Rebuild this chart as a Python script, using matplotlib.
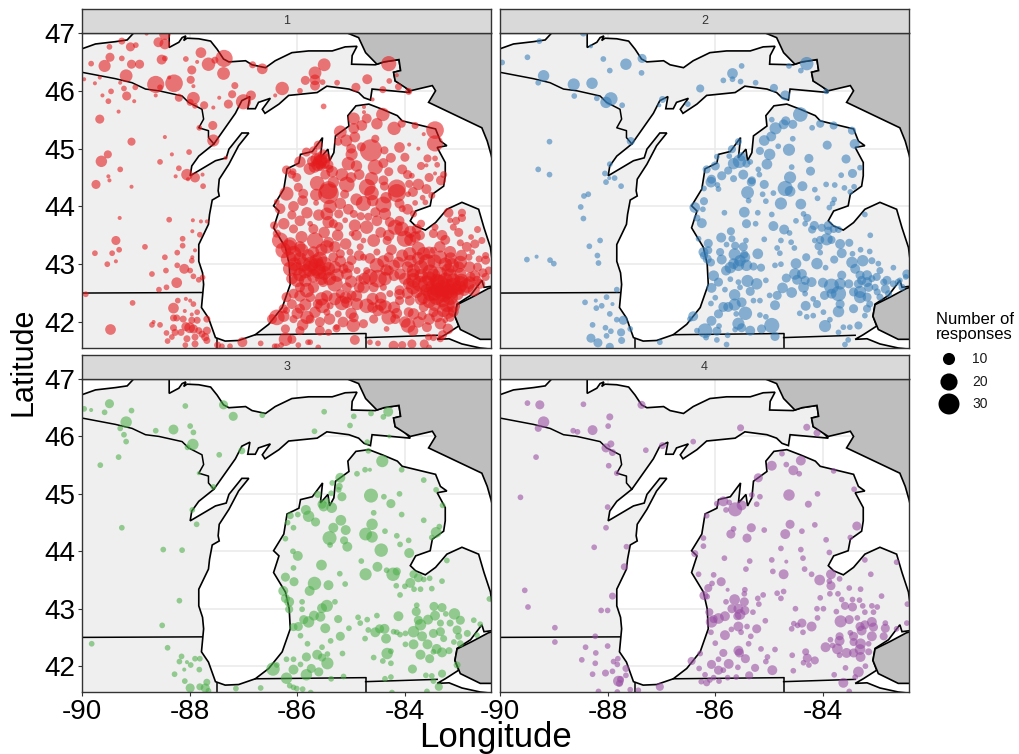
import numpy as np
import matplotlib
matplotlib.use("Agg")
import matplotlib.pyplot as plt

plt.rcParams['font.family'] = ['Liberation Sans', 'DejaVu Sans']
plt.rcParams['axes.unicode_minus'] = False

# outlines as (lon, lat)
land = [(-90.2,46.66),(-89.75,46.81),(-89.38,46.85),(-89.16,46.88),(-89.04,47.0),(-89.04,47.2),(-88.38,47.2),
        (-88.38,47.0),(-88.38,46.75),(-88.2,46.84),(-88.14,46.92),(-88.07,46.95),(-88.11,46.87),(-88.05,46.91),
        (-87.83,46.9),(-87.61,46.86),(-87.49,46.72),(-87.37,46.55),(-87.27,46.5),(-86.96,46.52),(-86.84,46.45),
        (-86.59,46.4),(-86.41,46.52),(-86.1,46.66),(-85.79,46.69),(-85.35,46.69),(-85.11,46.76),(-84.89,46.77),
        (-84.98,46.61),(-84.99,46.46),(-84.55,46.45),(-84.39,46.5),(-84.11,46.54),(-84.08,46.35),(-84.21,46.32),
        (-84.18,46.17),(-84.02,46.09),(-83.9,45.97),(-84.61,46.03),(-84.64,45.84),(-84.76,45.88),(-84.86,45.97),
        (-85.04,46.03),(-85.45,46.08),(-85.63,45.97),(-86.16,45.92),(-86.34,45.77),(-86.6,45.61),(-86.65,45.68),
        (-86.5,45.87),(-86.72,45.8),(-86.78,45.69),(-86.92,45.69),(-86.88,45.9),(-87.03,45.83),(-87.15,45.61),
        (-87.55,45.08),(-87.83,44.87),(-87.96,44.7),(-87.99,44.53),(-87.52,44.79),(-87.32,44.84),(-87.27,44.99),
        (-87.03,45.27),(-86.9,45.27),(-87.09,45.05),(-87.27,44.73),(-87.45,44.47),(-87.47,44.27),(-87.45,44.18),
        (-87.58,44.11),(-87.63,43.86),(-87.65,43.69),(-87.83,43.34),(-87.83,43.05),(-87.76,42.85),(-87.74,42.65),
        (-87.78,42.25),(-87.65,42.07),(-87.52,41.73),(-87.34,41.67),(-87.09,41.68),(-86.78,41.78),(-86.53,41.96),
        (-86.28,42.25),(-86.13,42.65),(-86.15,43.0),(-86.22,43.29),(-86.44,43.63),(-86.34,43.92),(-86.44,44.01),
        (-86.25,44.3),(-86.19,44.65),(-85.97,44.75),(-85.94,44.9),(-85.72,44.95),(-85.53,45.19),(-85.57,44.84),
        (-85.43,44.99),(-85.4,44.79),(-85.32,44.93),(-85.29,45.22),(-85.04,45.39),(-85.06,45.57),(-84.91,45.74),
        (-84.67,45.77),(-84.42,45.68),(-84.14,45.57),(-84.05,45.48),(-83.43,45.34),(-83.34,45.13),(-83.22,45.05),
        (-83.4,45.02),(-83.25,44.76),(-83.25,44.53),(-83.28,44.35),(-83.49,44.21),(-83.53,44.01),(-83.8,43.92),
        (-83.9,43.75),(-83.8,43.66),(-83.62,43.59),(-83.43,43.72),(-83.22,43.95),(-82.94,44.07),(-82.63,43.95),
        (-82.53,43.63),(-82.41,43.29),(-82.37,43.0),(-82.37,42.62),(-82.53,42.6),(-82.57,42.72),(-82.78,42.46),
        (-83.03,42.31),(-83.07,42.1),(-83.0,41.93),(-83.25,41.78),(-83.4,41.7),(-83.18,41.71),(-82.94,41.62),
        (-82.6,41.55),(-82.3,41.52),(-82.3,41.3),(-90.2,41.3)]
ontario_n = [(-85.1,47.1),(-85.07,47.0),(-84.86,46.92),(-84.73,46.66),(-84.52,46.46),(-84.39,46.5),(-84.11,46.54),
             (-84.08,46.35),(-84.21,46.32),(-84.18,46.17),(-83.9,46.0),(-83.49,46.09),(-83.43,46.0),(-83.56,45.8),
             (-82.57,45.36),(-82.47,45.13),(-82.4,44.9),(-82.35,44.7),(-82.3,47.1)]
ontario_s = [(-82.3,42.62),(-82.45,42.58),(-82.75,42.43),(-83.03,42.3),(-83.07,42.1),(-82.97,41.87),(-82.6,41.7),(-82.3,41.7)]
wi_up = [(-90.2,46.33),(-90.0,46.32),(-89.38,46.21),(-89.07,46.14),(-88.82,46.03),(-88.57,46.0),(-88.14,45.91),
         (-88.02,45.8),(-87.77,45.68),(-87.74,45.51),(-87.83,45.36),(-87.65,45.31),(-87.65,45.19),(-87.55,45.08)]
il_wi = [(-90.2,42.5),(-87.77,42.51)]
mi_in = [(-86.78,41.78),(-84.73,41.8)]
mi_oh = [(-84.73,41.73),(-83.4,41.77)]
in_oh = [(-84.73,41.8),(-84.73,41.3)]
il_in = [(-87.5,41.7),(-87.5,41.3)]

# responses per panel as (lon, lat, n)
points_1 = [(-89.49,46.76,2),(-89.26,46.86,3),(-89.1,46.76,5),(-89.0,46.79,2),(-88.58,46.84,6),(-88.46,46.81,7),
    (-88.46,46.98,8),(-88.8,46.99,1),(-89.48,46.58,5),(-89.26,46.56,2),(-89.83,46.47,2),(-89.58,46.43,9),(-89.08,46.46,5),
    (-88.93,46.46,5),(-88.52,46.54,6),(-88.46,46.56,2),(-88.07,46.55,2),(-87.86,46.5,1),(-87.79,46.66,7),(-87.65,46.46,11),
    (-87.53,46.53,3),(-87.36,46.56,18),(-87.37,46.3,10),(-87.96,46.36,5),(-86.83,46.45,3),(-86.65,46.38,7),(-85.5,46.45,10),
    (-85.67,46.31,10),(-85.85,46.18,5),(-85.67,46.19,7),(-85.67,46.09,6),(-85.53,46.15,2),(-85.26,46.14,2),(-84.7,46.2,6),
    (-84.3,46.47,14),(-84.15,46.27,1),(-84.29,46.17,2),(-84.12,46.07,3),(-83.93,45.99,3),(-84.41,46.02,3),(-84.91,46.06,5),
    (-85.95,46.0,2),(-86.28,46.04,11),(-86.41,45.92,1),(-87.16,46.09,3),(-87.21,45.94,4),(-86.86,45.92,6),(-87.0,45.81,14),
    (-87.28,45.77,5),(-87.45,45.88,1),(-87.56,45.71,1),(-88.2,45.88,4),(-87.93,45.87,10),(-87.99,45.8,3),(-87.9,45.74,2),
    (-87.73,45.75,4),(-88.29,46.13,19),(-88.63,46.11,18),(-89.18,46.26,10),(-88.55,46.06,2),(-88.38,46.23,1),(-87.98,46.19,4),
    (-87.93,46.08,1),(-89.96,46.2,1),(-89.76,46.13,1),(-89.67,46.23,1),(-89.29,46.14,1),(-89.22,46.04,2),(-89.01,46.06,2),
    (-89.46,45.99,2),(-89.62,45.92,1),(-89.17,45.91,5),(-89.51,45.82,2),(-89.03,45.82,1),(-88.63,45.92,1),(-89.32,45.64,1),
    (-89.67,45.51,5),(-89.08,45.12,4),(-88.46,45.2,1),(-89.64,44.78,8),(-89.52,44.9,4),(-89.29,44.64,2),(-89.51,44.52,1),
    (-89.49,44.45,1),(-89.74,44.38,5),(-89.08,44.34,1),(-88.55,44.77,2),(-88.33,44.9,1),(-88.01,44.94,2),(-87.57,45.4,5),
    (-87.82,45.36,2),(-87.56,45.14,9),(-88.2,44.66,2),(-88.26,44.52,1),(-88.05,44.55,8),(-87.9,44.5,6),(-88.03,44.47,1),
    (-87.76,44.55,1),(-87.75,44.35,2),(-87.33,44.84,1),(-85.51,45.73,2),(-84.6,45.85,1),
    (-84.76,45.72,1),(-84.76,45.63,1),(-84.95,45.52,9),(-84.71,45.52,6),(-84.41,45.59,11),(-84.52,45.43,8),(-84.8,45.4,7),
    (-84.95,45.35,7),(-85.2,45.29,10),(-84.93,45.2,7),(-85.09,45.14,9),(-85.24,45.12,4),(-84.55,45.17,4),(-84.2,45.35,11),
    (-84.06,45.43,4),(-83.81,45.4,3),(-83.44,45.32,19),(-83.44,45.09,16),(-83.65,45.25,1),(-83.92,45.07,1),(-83.75,45.0,1),
    (-84.1,45.02,7),(-84.38,44.97,4),(-84.63,44.97,30),(-84.81,45.03,5),(-84.26,44.84,6),(-84.99,44.9,9),(-84.55,44.68,14),
    (-85.05,44.74,11),(-85.17,44.55,10),(-83.58,44.83,4),(-83.44,44.83,2),(-83.6,44.71,1),(-83.4,44.72,2),(-84.05,44.64,6),
    (-83.87,44.53,2),(-83.28,44.55,3),(-83.44,44.57,1),(-83.33,44.45,6),(-83.75,44.38,8),(-83.92,44.39,4),(-84.15,44.31,20),
    (-84.38,44.35,5),(-84.62,44.48,11),(-84.7,44.33,17),(-85.08,44.38,15),(-85.42,44.28,20),(-85.33,44.42,8),(-85.63,44.4,13),
    (-85.98,44.33,5),(-85.58,44.77,12),(-85.55,44.8,9),(-85.62,44.72,10),(-85.5,44.75,8),(-85.65,44.82,8),(-85.52,44.9,6),
    (-85.68,44.68,8),(-85.6,44.85,6),(-85.45,44.83,5),(-85.72,44.78,7),(-85.56,44.7,6),(-85.42,44.72,6),(-85.4,44.65,4),
    (-86.2,44.63,5),(-86.08,44.6,3),(-85.83,44.94,5),(-85.7,44.97,4),(-85.61,45.06,5),(-85.95,44.77,8),(-85.77,44.65,9),
    (-85.48,44.55,6),(-86.01,44.5,5),(-86.1,44.55,4),(-89.3,43.8,1),(-89.37,43.41,5),(-89.31,43.25,2),(-89.44,43.19,2),
    (-89.76,43.19,2),(-89.37,43.05,1),(-89.53,43.0,2),(-88.83,43.3,2),(-88.7,42.83,2),(-88.44,42.89,2),(-88.46,43.12,2),
    (-88.23,43.2,2),(-88.38,43.77,2),(-87.94,43.76,1),(-87.79,43.74,1),(-87.68,43.74,1),(-87.95,43.57,1),(-87.81,43.51,2),
    (-88.13,43.44,2),(-88.13,43.32,2),(-87.9,43.24,1),(-87.95,43.12,1),(-87.96,43.06,2),(-88.23,42.98,2),(-88.1,42.92,6),
    (-87.99,42.89,2),(-87.93,42.79,2),(-87.76,42.77,2),(-87.83,42.73,2),(-88.24,42.68,7),(-88.43,42.6,2),(-88.57,42.56,2),
    (-89.93,42.48,2),(-89.06,42.33,2),(-88.3,42.24,7),(-88.22,42.37,2),(-88.07,42.4,1),(-87.99,42.37,1),(-87.93,42.31,2),
    (-89.47,41.87,7),(-88.7,41.95,2),(-88.67,42.0,1),(-88.55,41.95,2),(-88.3,42.07,3),(-88.24,42.07,3),(-88.12,42.05,3),
    (-87.96,42.03,3),(-87.86,42.03,3),(-87.86,42.17,2),(-88.09,42.19,1),(-87.96,42.13,1),(-87.68,42.05,3),(-88.0,41.9,7),
    (-88.07,41.92,5),(-87.93,41.88,5),(-88.3,41.9,3),(-88.27,41.82,3),(-88.43,41.81,2),(-88.16,41.82,3),(-88.41,41.67,2),
    (-88.33,41.74,2),(-88.05,41.71,3),(-87.9,41.74,3),(-87.71,41.74,4),(-87.68,41.85,4),(-87.77,41.79,3),(-87.83,41.85,3),
    (-88.08,41.6,2),(-87.9,41.62,3),(-87.68,41.68,3),(-87.48,41.6,3),(-87.4,41.58,2),(-87.25,41.58,2),(-87.02,41.65,6),
    (-86.68,41.63,2),(-86.38,41.58,2),
    (-86.2,44.22,12),(-85.89,44.22,6),(-85.42,44.22,26),(-85.12,44.21,5),(-84.62,44.23,13),(-84.15,44.23,20),(-83.94,44.21,2),
    (-83.67,44.15,2),(-83.5,44.19,3),(-86.07,44.0,7),(-86.32,43.96,7),(-86.38,44.08,2),(-85.82,43.89,8),(-85.65,44.06,2),
    (-85.39,44.0,11),(-84.77,44.05,14),(-84.4,44.03,16),(-84.05,43.96,3),(-83.81,44.06,2),(-83.62,44.07,2),(-85.45,43.87,10),
    (-85.23,43.87,5),(-84.95,43.87,4),(-84.82,43.83,4),(-84.68,43.82,4),(-84.37,43.87,9),(-83.84,43.87,3),(-83.19,43.89,6),
    (-82.94,43.89,4),(-82.94,43.8,4),(-83.44,43.64,3),(-83.16,43.76,2),(-86.25,43.7,8),(-86.43,43.67,4),(-86.07,43.61,5),
    (-85.76,43.7,2),(-85.42,43.73,9),(-85.33,43.7,5),(-85.23,43.65,5),(-85.11,43.76,2),(-84.93,43.67,9),(-84.71,43.64,11),
    (-84.52,43.75,7),(-84.28,43.73,6),(-84.18,43.64,14),(-84.06,43.61,13),(-83.9,43.56,9),(-83.78,43.61,6),(-85.92,43.47,9),
    (-85.67,43.41,16),(-85.42,43.38,7),(-85.7,43.61,6),(-84.99,43.53,2),(-84.77,43.41,2),(-84.58,43.41,10),(-84.33,43.41,5),
    (-84.0,43.44,16),(-83.9,43.42,9),(-83.81,43.47,8),(-83.72,43.5,6),(-83.47,43.53,5),(-83.31,43.5,7),(-82.97,43.37,3),
    (-83.1,43.64,3),(-82.77,43.47,2),(-86.32,43.41,16),(-86.16,43.29,15),(-86.13,43.35,11),(-86.07,43.18,15),(-86.26,43.24,15),
    (-86.38,43.53,4),(-82.57,43.41,3),(-85.92,43.24,12),(-85.7,43.21,8),(-85.45,43.3,11),(-85.58,43.09,13),(-85.64,42.95,19),
    (-85.76,42.92,15),(-85.51,43.0,15),(-85.42,42.92,11),(-85.89,43.0,13),(-86.01,42.92,11),(-85.33,43.12,6),(-85.2,43.18,5),
    (-85.02,43.21,3),(-84.83,43.3,3),(-84.99,43.07,6),(-84.77,43.12,3),(-84.52,43.21,3),(-84.3,43.12,6),(-84.12,43.03,8),
    (-83.91,43.18,11),(-83.75,43.27,11),(-83.59,43.03,17),(-83.65,43.18,11),(-83.47,43.24,3),(-83.16,43.21,9),(-82.97,43.03,11),
    (-83.13,42.98,13),(-82.81,43.12,3),(-82.75,43.21,2),(-82.62,43.09,3),(-82.5,43.07,5),(-82.5,43.15,3),(-82.44,42.89,4),
    (-83.34,43.12,11),(-83.53,42.86,15),(-83.84,42.89,11),(-84.09,42.83,8),(-84.3,42.89,6),(-84.52,42.98,13),(-84.65,42.78,15),
    (-84.5,42.75,19),(-84.37,42.75,11),(-84.71,42.89,3),(-84.89,42.89,3),(-85.14,42.92,6),(-85.26,42.81,11),(-85.08,42.83,8),
    (-86.0,42.72,11),(-86.16,43.09,15),(-86.13,42.92,13),
    (-83.35,42.66,19),(-83.22,42.6,17),(-83.1,42.63,15),(-82.97,42.66,15),(-82.85,42.63,13),(-83.47,42.6,15),(-83.6,42.66,17),
    (-83.72,42.66,15),(-83.28,42.49,17),(-83.16,42.43,15),(-83.03,42.49,11),(-83.41,42.43,15),(-83.53,42.49,13),(-83.22,42.31,15),
    (-83.1,42.28,11),(-83.28,42.2,11),(-83.84,42.72,13),(-82.72,42.55,9),(-82.6,42.66,6),(-82.66,42.72,5),(-82.78,42.78,6),
    (-82.5,42.78,4),(-83.65,42.43,11),(-83.78,42.52,9),(-83.93,42.66,8),(-83.35,42.83,13),(-83.16,42.81,11),(-82.97,42.83,9),
    (-83.47,42.81,11),(-83.6,42.55,9),(-83.4,42.55,13),(-83.2,42.52,11),(-83.05,42.56,9),(-82.9,42.55,8),
    (-85.82,42.55,13),(-85.95,42.6,6),(-86.07,42.49,6),(-86.2,42.43,6),(-85.7,42.6,8),(-85.52,42.69,6),(-85.3,42.66,15),
    (-85.08,42.6,6),(-84.85,42.75,3),(-84.77,42.6,9),(-84.58,42.6,6),(-84.4,42.6,3),(-84.28,42.49,3),(-84.1,42.55,6),
    (-83.91,42.37,6),(-84.1,42.37,5),(-83.65,42.26,6),(-83.84,42.14,8),(-83.47,42.17,6),(-85.53,42.28,13),(-85.62,42.31,6),
    (-85.39,42.28,3),(-85.17,42.33,13),(-85.08,42.34,8),(-84.89,42.31,9),(-84.71,42.28,13),(-84.99,42.46,6),(-85.2,42.49,5),
    (-85.76,42.43,6),(-85.95,42.23,6),(-86.1,42.31,6),(-86.2,42.2,3),(-86.38,42.08,15),(-86.47,42.05,6),(-86.26,42.23,5),
    (-85.82,42.08,11),(-85.67,42.17,8),(-85.45,42.17,3),(-85.24,42.14,3),(-84.58,42.05,5),(-84.37,42.26,11),(-84.3,42.08,13),
    (-84.18,42.05,6),(-83.93,42.17,6),(-83.68,42.11,5),(-83.34,41.97,8),(-83.94,41.94,13),(-83.59,41.91,6),(-83.25,42.03,2),
    (-83.16,42.08,5),(-84.34,41.88,2),(-84.96,41.94,11),(-84.77,41.97,5),(-85.27,41.89,4),(-85.58,42.0,6),(-85.76,42.05,5),
    (-86.07,42.05,4),(-86.22,41.88,5),(-85.95,41.85,5),(-85.58,41.85,6),(-85.42,41.82,3),(-85.27,41.91,2),(-84.93,41.69,6),
    (-86.22,41.7,11),(-86.1,41.7,5),(-85.76,41.65,2),(-85.61,41.56,2),(-85.98,41.6,2),(-84.65,41.65,2),(-84.5,41.63,2),
    (-84.21,41.59,6),(-84.05,41.6,4),(-83.87,41.62,5),(-83.64,41.62,5),(-83.55,41.56,2),(-83.47,41.73,3),(-83.56,41.74,3),
    (-83.34,41.71,3),(-86.42,41.58,2),(-86.3,41.6,2),(-85.8,41.65,2),
    (-85.0,45.0,6),(-84.9,44.7,8),(-84.4,44.75,6),(-84.0,44.85,5),(-83.7,44.7,4),(-84.3,44.6,5),(-84.85,44.55,7),(-85.35,44.6,8),
    (-85.0,44.5,7),(-84.4,44.45,6),(-83.95,44.55,5),(-83.55,44.5,5),(-83.6,44.3,6),(-83.85,44.25,6),(-84.35,44.15,8),(-84.9,44.12,9),
    (-85.2,44.05,8),(-85.65,44.2,9),(-85.9,44.1,7),(-84.6,44.1,8),(-84.1,44.05,6),(-83.95,43.95,7),(-84.55,43.9,6),(-85.05,43.95,7),
    (-85.6,43.85,8),(-85.95,43.75,7),(-86.1,43.85,5),(-85.5,43.55,8),(-85.25,43.5,8),(-85.1,43.35,8),(-84.9,43.5,7),(-84.45,43.55,7),
    (-84.3,43.5,8),(-84.1,43.75,6),(-83.7,43.7,4),(-83.55,43.2,9),(-83.35,43.3,8),(-83.25,43.42,6),(-83.0,43.55,5),(-82.85,43.3,6),
    (-82.7,43.35,5),(-82.65,43.6,3),(-83.05,43.75,4),
    (-85.95,43.3,8),(-85.8,43.15,10),(-85.55,43.25,9),(-85.3,43.3,8),(-85.2,43.05,8),(-85.05,42.95,8),(-84.85,43.15,7),(-84.65,43.1,7),
    (-84.4,43.05,9),(-84.25,43.25,7),(-84.05,43.15,9),(-84.2,42.98,8),(-83.9,43.05,10),(-83.75,43.1,10),(-83.7,42.95,12),(-83.45,43.05,12),
    (-83.25,43.0,11),(-83.15,43.1,9),(-82.95,43.15,8),(-82.8,42.95,8),(-82.65,42.95,5),(-83.95,42.95,8),(-84.0,42.75,9),(-84.2,42.8,7),
    (-84.35,42.9,8),(-84.75,42.75,9),(-84.85,42.6,7),(-85.0,42.7,9),(-85.4,42.75,11),(-85.55,42.75,10),(-85.7,42.8,11),(-85.85,42.72,10),
    (-85.95,42.82,11),(-86.1,42.75,8),(-85.75,43.0,14),(-85.6,42.87,13),(-85.5,42.85,12),(-85.85,42.88,12),(-85.65,43.05,12),(-85.3,42.95,9),
    (-85.95,43.1,10),(-86.05,43.0,11),
    (-85.95,42.45,8),(-85.85,42.3,9),(-85.45,42.45,8),(-85.55,42.4,11),(-85.3,42.4,10),(-85.1,42.42,9),(-84.9,42.45,8),(-84.6,42.4,9),
    (-84.45,42.42,8),(-84.2,42.25,9),(-84.1,42.48,7),(-83.95,42.5,8),(-85.0,42.15,8),(-85.4,42.05,8),(-85.15,42.0,7),(-85.9,41.95,8),
    (-86.0,42.15,8),(-86.25,42.1,8),(-84.95,42.08,6),(-84.5,42.2,8),(-84.45,42.3,9),(-84.6,42.25,7),(-84.15,42.15,7),(-84.0,42.0,8),
    (-83.85,41.85,7),(-83.75,42.0,8),(-83.55,42.05,8),(-83.4,42.1,9),(-83.45,42.3,10),(-83.55,42.35,10),(-83.7,42.4,10),(-83.85,42.6,12),
    (-83.3,42.38,13),(-83.4,42.7,14),(-83.25,42.72,14),(-83.1,42.72,12),(-82.95,42.72,11),(-83.3,42.58,17),(-83.15,42.52,15),(-83.45,42.5,14),
    (-83.0,42.6,13),(-82.8,42.68,10),(-83.55,42.75,13),(-83.7,42.8,11),(-83.85,42.82,9),(-83.2,42.9,10),(-83.0,42.95,8),(-83.2,41.88,7),
    (-83.3,41.78,5),(-83.2,42.16,9),(-83.1,42.18,7),(-82.7,42.8,7),(-82.55,42.85,5)]

points_2 = [(-89.96,46.49,2),(-89.49,46.58,2),(-89.27,46.86,2),(-88.45,47.0,3),(-88.31,46.77,1),(-88.08,46.55,2),(-87.66,46.46,8),
    (-87.36,46.56,5),(-87.96,46.35,2),(-87.37,46.31,2),(-89.19,46.26,8),(-89.29,46.14,2),(-88.63,46.11,9),(-88.29,46.13,8),
    (-88.62,45.91,2),(-88.2,45.87,2),(-87.94,45.86,11),(-88.03,45.8,8),(-87.73,45.75,2),(-86.98,45.85,3),(-87.04,45.75,1),
    (-86.51,45.77,2),(-86.28,46.04,4),(-85.68,46.3,7),(-85.51,46.43,2),(-85.85,46.18,2),(-85.68,46.2,2),(-85.53,46.16,2),
    (-85.25,46.14,2),(-84.91,46.05,4),(-84.7,45.92,6),(-84.63,46.43,2),(-84.41,46.35,2),(-84.3,46.47,11),(-83.94,45.99,2),
    (-89.08,45.12,2),(-89.29,44.64,2),(-89.08,44.55,2),(-87.57,45.13,4),(-87.96,44.73,2),(-88.05,44.57,2),(-87.87,44.49,2),
    (-87.97,44.49,1),(-84.95,45.5,2),(-84.42,45.59,13),(-84.69,45.48,5),(-84.56,45.42,5),(-84.73,45.42,6),(-84.88,45.35,9),
    (-84.96,45.21,6),(-85.09,45.14,7),(-84.2,45.36,2),(-84.05,45.43,4),(-83.8,45.4,4),(-83.46,45.31,4),(-83.41,45.08,6),
    (-84.56,45.17,2),(-83.92,45.06,5),(-84.63,44.98,9),(-84.83,45.04,2),(-85.17,44.96,4),(-84.99,44.9,8),(-84.26,44.83,5),
    (-83.57,44.82,5),(-85.04,44.73,7),(-84.58,44.68,2),(-84.23,44.61,5),(-83.66,44.54,2),(-83.45,44.57,5),(-83.31,44.67,2),
    (-84.61,44.5,9),(-85.48,44.55,6),(-85.18,44.55,2),(-85.2,44.64,2),(-85.55,44.78,11),(-85.66,44.74,8),(-85.51,44.86,5),
    (-85.42,44.74,4),(-85.74,44.87,2),(-85.69,44.99,4),(-85.57,45.12,3),(-85.97,44.86,2),(-86.0,44.7,5),(-85.76,44.62,4),
    (-85.88,44.53,5),(-86.16,44.64,4),(-85.35,44.77,2),(-86.07,44.47,5),(-85.32,44.45,4),(-85.66,44.48,3),
    (-88.03,44.42,2),(-87.75,44.35,2),(-88.44,44.18,2),(-88.36,44.21,2),(-88.5,43.99,2),(-88.45,43.79,2),(-88.14,43.41,2),
    (-88.34,43.31,2),(-88.19,43.15,2),(-88.17,43.02,2),(-89.5,43.08,2),(-89.32,43.13,1),(-89.07,43.07,2),(-89.0,43.01,2),
    (-87.83,42.56,2),(-88.42,42.34,2),(-88.22,42.37,1),(-88.02,42.43,2),(-88.11,42.28,2),(-87.91,42.31,1),(-88.21,42.24,2),
    (-87.96,42.14,2),(-87.83,42.04,2),(-87.71,42.03,5),(-88.28,41.95,2),(-88.04,41.9,2),(-87.58,41.88,2),(-87.75,41.82,4),
    (-87.94,41.84,2),(-88.02,41.76,2),(-88.31,41.72,5),(-88.18,41.64,5),(-87.96,41.57,4),(-87.74,41.68,3),(-87.03,41.65,2),
    (-86.08,44.42,7),(-86.21,44.31,2),(-85.96,44.37,2),(-85.94,44.3,2),(-85.4,44.24,10),(-85.33,44.42,5),(-85.09,44.38,5),
    (-85.12,44.21,2),(-84.92,44.23,2),(-84.7,44.31,14),(-84.61,44.26,7),(-84.38,44.35,6),(-84.15,44.29,2),(-83.94,44.38,2),
    (-83.78,44.37,2),(-83.6,44.32,2),(-83.42,44.34,2),(-83.49,44.25,2),(-85.38,44.1,2),(-85.06,44.09,2),(-84.78,44.05,9),
    (-84.41,44.04,7),(-84.1,44.14,2),(-83.79,44.12,2),(-83.82,44.05,2),(-83.88,43.98,2),(-86.21,44.09,4),(-86.38,43.98,7),
    (-86.23,43.95,2),(-85.83,43.89,2),(-85.46,43.9,7),(-85.21,43.89,2),(-84.95,43.86,2),(-84.36,43.87,2),(-84.29,43.8,4),
    (-84.5,43.75,2),(-86.34,43.8,3),(-86.25,43.71,6),(-85.42,43.7,5),(-85.25,43.7,2),(-84.92,43.66,6),(-84.72,43.6,6),
    (-84.33,43.7,2),(-84.16,43.67,5),(-84.2,43.6,4),(-84.02,43.63,4),(-83.9,43.67,5),(-83.9,43.58,4),(-83.8,43.61,4),
    (-83.71,43.6,3),(-85.71,43.57,4),(-84.62,43.54,2),(-83.22,43.86,2),(-83.12,43.5,2),(-85.89,43.46,6),(-85.69,43.44,3),
    (-85.43,43.41,2),(-85.09,43.43,2),(-84.78,43.41,2),(-84.59,43.38,2),(-83.93,43.43,9),(-84.05,43.42,4),(-83.84,43.42,4),
    (-84.15,43.41,2),(-83.68,43.35,6),(-83.51,43.37,4),(-86.13,43.36,5),(-86.31,43.44,2),(-85.79,43.34,2),(-85.63,43.32,4),
    (-85.48,43.3,5),(-84.85,43.28,2),(-84.53,43.28,2),(-84.08,43.31,4),(-83.45,43.18,2),(-83.3,43.25,2),(-83.13,43.22,2),
    (-84.05,43.2,2),(-86.22,43.21,6),(-86.13,43.24,4),(-85.91,43.21,4),(-85.64,43.17,9),(-85.46,43.17,4),(-85.21,43.18,7),
    (-84.8,43.19,2),(-83.65,43.19,6),(-84.31,43.12,4),(-83.79,43.08,4),(-83.46,43.03,8),(-83.26,43.06,8),(-83.09,43.06,3),
    (-82.97,43.01,2),(-82.69,42.94,2),(-86.15,43.09,5),(-86.21,43.15,4),(-86.08,43.03,4),(-85.88,43.08,6),(-85.45,43.12,7),
    (-85.54,43.06,8),(-85.66,43.01,7),(-85.57,42.98,8),(-85.72,42.94,8),(-85.8,42.89,6),(-85.42,42.98,8),(-85.29,42.96,4),
    (-85.15,42.94,4),(-84.5,43.01,7),(-84.11,43.01,8),(-83.95,42.94,2),(-84.89,42.98,2),(-84.78,43.0,2),(-82.44,42.83,5),
    (-84.52,42.83,8),(-84.39,42.83,6),(-84.68,42.76,5),(-84.48,42.73,6),(-84.33,42.72,5),(-84.21,42.69,6),(-84.36,42.6,7),
    (-84.58,42.51,7),(-84.75,42.59,7),(-84,42.68,6),
    (-83.65,42.81,5),(-83.4,42.92,6),(-83.31,42.81,5),(-83.18,42.81,6),(-83.28,42.72,5),(-83.34,42.66,5),(-83.18,42.69,6),
    (-83.0,42.78,4),(-83.68,42.66,8),(-83.84,42.62,14),(-83.52,42.66,5),(-83.71,42.49,14),(-83.97,42.46,5),(-83.84,42.49,6),
    (-83.43,42.52,5),(-83.31,42.43,9),(-83.18,42.43,5),(-83.03,42.6,3),(-82.87,42.69,3),(-82.81,42.72,5),(-82.84,42.57,5),
    (-82.69,42.66,3),(-82.53,42.6,3),(-82.6,42.69,3),(-82.78,42.49,3),(-82.94,42.43,3),(-83.13,42.31,3),(-83.43,42.23,5),
    (-83.68,42.31,5),(-83.71,42.18,8),(-83.18,42.23,4),(-83.31,42.52,9),(-83.15,42.6,5),(-82.99,42.52,3),(-83.09,42.75,3),
    (-82.94,42.89,3),(-82.57,42.72,2),(-82.46,42.78,2),(-83.22,42.11,2),(-83.34,41.94,4),(-83.62,41.91,2),(-83.5,41.91,2),
    (-83.96,41.93,9),(-83.71,41.82,2),(-83.87,42.04,2),(-83.99,42.17,2),(-84.18,42.11,2),(-84.3,42.09,2),(-84.43,42.15,2),
    (-84.11,42.31,4),(-84.32,42.28,6),(-84.18,42.4,2),(-84.33,42.49,2),
    (-86.03,42.8,7),(-85.94,42.69,5),(-85.72,42.74,2),(-85.57,42.69,2),(-85.4,42.71,9),(-85.23,42.66,8),(-85.06,42.72,2),
    (-85.54,42.6,2),(-85.64,42.47,8),(-85.35,42.53,5),(-85.82,42.56,2),(-86.07,42.59,6),(-85.51,42.34,6),(-85.64,42.3,9),
    (-85.76,42.26,6),(-85.85,42.26,6),(-85.94,42.14,5),(-85.44,42.15,11),(-85.29,42.37,2),(-85.17,42.37,2),(-84.99,42.46,2),
    (-84.85,42.46,5),(-84.89,42.29,6),(-85.17,42.12,2),(-85.06,42.09,2),(-85.61,42.14,2),(-86.08,42.32,2),(-86.0,42.42,2),
    (-86.41,42.1,6),(-86.47,42.05,2),(-86.07,42.02,6),(-85.93,41.93,2),(-85.57,41.97,9),(-85.51,41.9,5),(-85.35,41.85,6),
    (-85.14,41.88,5),(-84.95,41.94,14),(-85.63,41.87,2),(-86.19,41.85,13),(-85.97,41.84,5),(-86.34,41.85,2),(-84.89,41.75,5),
    (-85.77,41.77,2),(-86.17,41.73,2),(-85.97,41.69,2),(-85.79,41.61,2),(-83.53,41.69,2),(-83.59,41.61,2)]

points_3 = [(-89.96,46.48,2),(-89.83,46.46,1),(-89.58,46.42,2),(-89.49,46.57,5),(-89.08,46.45,2),(-88.08,46.53,2),(-87.37,46.55,5),
    (-87.19,46.35,5),(-86.65,46.37,2),(-85.5,46.43,2),(-84.95,46.35,2),(-84.63,46.4,2),(-84.4,46.34,2),(-84.31,46.43,6),
    (-85.02,46.19,2),(-85.68,46.09,2),(-84.29,46.0,1),(-84.7,45.9,2),(-89.18,46.25,8),(-89.29,46.14,2),(-89.22,46.03,2),
    (-89.18,45.91,2),(-88.63,46.1,2),(-88.3,46.12,6),(-87.99,46.18,2),(-87.93,46.07,2),(-87.94,45.86,8),(-88.04,45.81,2),
    (-87.03,45.75,3),(-87.45,45.68,2),(-89.32,45.64,2),(-89.66,45.5,2),(-87.83,45.36,1),(-87.56,45.12,2),(-87.95,44.72,2),
    (-89.26,44.41,2),(-87.87,44.47,2),(-88.49,44.03,2),(-88.14,44.02,2),(-88.19,43.14,2),(-88.51,42.71,2),(-89.82,42.39,2),
    (-88.41,42.32,2),(-88.15,42.17,2),(-88.19,42.08,2),(-88.05,42.07,1),(-87.9,42.13,2),(-87.81,42.13,2),(-87.98,42.02,2),
    (-87.82,41.94,2),(-88.1,41.94,1),(-88.28,41.86,2),(-88.09,41.74,2),(-87.68,41.72,3),(-87.99,41.62,5),(-87.81,41.64,3),
    (-87.71,41.62,5),(-87.65,41.57,2),(-87.14,41.61,2),(-86.68,41.62,2),
    (-84.68,45.75,2),(-84.74,45.42,2),(-84.65,45.42,1),(-84.42,45.57,9),(-84.06,45.42,2),(-84.89,45.35,2),(-83.65,45.24,2),
    (-85.2,45.28,6),(-85.35,45.19,2),(-85.22,45.13,3),(-85.37,45.01,2),(-85.23,45.07,2),(-85.17,44.95,5),(-83.42,45.07,2),
    (-84.63,44.97,12),(-84.39,44.95,2),(-84.1,45.0,2),(-84.26,44.83,5),(-85.62,44.99,3),(-85.51,44.78,6),(-85.54,44.82,5),
    (-85.36,44.76,7),(-85.45,44.88,2),(-85.84,44.72,6),(-85.79,44.61,8),(-85.66,44.51,5),(-85.99,44.64,2),(-86.13,44.62,3),
    (-86.18,44.5,2),(-86.07,44.41,2),(-84.58,44.67,2),(-84.06,44.64,2),(-83.3,44.8,2),(-83.65,44.54,2),(-85.19,44.54,7),
    (-84.61,44.47,8),(-84.37,44.35,2),(-85.33,44.41,6),(-85.1,44.37,6),(-83.36,44.43,2),(-83.42,44.33,7),(-83.5,44.24,2),
    (-85.4,44.23,12),(-84.73,44.3,10),(-84.61,44.25,8),(-84.15,44.27,2),(-83.93,44.19,2),(-84.09,44.12,2),(-85.13,44.19,4),
    (-85.39,44.11,2),(-85.07,44.08,6),(-86.22,44.22,2),(-86.08,44.0,2),(-85.99,43.92,6),(-84.44,44.02,11),(-83.92,43.97,6),
    (-84.81,43.83,2),(-85.55,43.76,7),(-84.51,43.73,6),(-86.07,43.71,2),(-84.34,43.67,2),(-85.21,43.61,2),(-84.73,43.6,9),
    (-84.22,43.6,11),(-84.15,43.65,4),(-83.84,43.6,4),(-83.9,43.45,6),(-83.75,43.54,5),(-83.65,43.51,2),(-83.54,43.53,2),
    (-83.31,43.48,2),(-83.22,43.84,2),(-84.0,43.39,2),(-84.16,43.4,2),(-83.83,43.34,2),(-83.71,43.34,2),(-83.5,43.35,2),
    (-84.09,43.24,2),(-86.22,43.55,5),(-86.06,43.47,5),(-85.68,43.44,11),(-85.42,43.41,6),(-85.77,43.31,6),(-85.11,43.43,2),
    (-86.26,43.31,6),(-86.22,43.18,5),(-86.15,43.12,6),(-86.15,42.99,4),(-85.91,43.12,2),(-85.91,42.99,2),(-85.45,43.05,9),
    (-85.54,43.01,6),(-85.3,43.12,2),(-84.12,42.87,6),(-83.78,43.06,2),(-83.79,42.95,5),(-83.46,43.04,5),(-83.31,43.02,5),
    (-83.44,42.88,6),(-83.24,42.91,2),(-83.08,42.91,8),(-83.57,42.81,6),(-83.75,42.8,5),(-82.97,42.8,5),(-82.72,42.8,2),
    (-82.6,42.73,2),(-82.43,43.17,2),
    (-85.69,42.88,6),(-85.57,42.86,6),(-85.79,42.77,8),(-85.88,42.81,5),(-85.98,42.69,5),(-86.07,42.68,4),(-85.48,42.66,6),
    (-85.24,42.82,4),(-85.04,42.66,2),(-85.2,42.52,5),(-85.94,42.53,2),(-85.81,42.39,2),(-85.54,42.33,2),(-85.38,42.44,2),
    (-84.52,42.88,2),(-84.7,42.81,2),(-84.87,42.85,2),(-84.83,42.75,2),(-84.68,42.63,2),(-84.55,42.59,6),(-84.47,42.65,5),
    (-84.38,42.65,6),(-84.35,42.48,6),(-84.74,42.48,2),(-84.21,42.6,2),(-84.09,42.55,2),(-83.99,42.57,2),(-84.15,42.59,2),
    (-83.84,42.6,8),(-83.71,42.72,8),(-83.68,42.52,6),(-83.58,42.38,6),(-83.84,42.38,6),(-83.47,42.57,5),(-83.34,42.75,3),
    (-83.16,42.75,3),(-83.03,42.63,5),(-83.0,42.52,3),(-82.84,42.57,3),(-83.34,42.6,5),(-83.28,42.48,3),(-83.41,42.3,6),
    (-83.31,42.24,6),(-83.18,42.27,3),(-83.09,42.42,2),(-82.97,42.39,3),(-82.66,42.54,2),(-83.71,42.2,6),(-83.54,42.13,5),
    (-83.99,42.38,2),(-83.47,42.25,2),(-83.03,42.02,3),
    (-85.16,42.22,2),(-85.44,42.21,2),(-85.63,42.2,6),(-85.54,42.15,4),(-85.44,42.05,9),(-85.74,41.96,5),(-85.83,42.16,5),
    (-85.83,41.85,8),(-85.6,41.9,5),(-86.07,41.94,6),(-85.94,42.03,2),(-86.2,42.12,2),(-86.07,42.12,2),(-86.45,41.95,11),
    (-86.38,42.02,2),(-86.2,41.79,8),(-85.37,41.78,2),(-85.14,41.82,2),(-84.33,42.22,8),(-84.58,42.15,2),(-84.41,42.09,2),
    (-84.26,42.05,2),(-84.26,42.26,2),(-83.86,41.95,5),(-84.37,41.78,2),(-84.26,41.81,2),(-83.61,41.84,2),(-83.5,41.83,2),
    (-83.31,41.87,4),(-83.47,41.74,2),(-83.37,41.64,4),(-83.59,41.56,2),(-86.14,41.66,2),(-86.07,41.63,2),(-86.01,41.61,2),
    (-85.9,41.6,2),(-85.75,41.54,2),(-84.24,41.54,2)]

points_4 = [(-89.49,46.58,2),(-89.26,46.55,5),(-89.19,46.25,8),(-89.29,46.14,3),(-88.45,46.56,2),(-87.96,46.34,3),(-87.99,46.18,2),
    (-88.28,46.11,6),(-88.64,46.1,2),(-88.56,46.08,2),(-87.37,46.55,4),(-85.53,46.15,3),(-84.3,46.16,3),(-84.11,46.06,3),
    (-87.94,45.87,3),(-88.03,45.8,5),(-87.91,45.72,3),(-86.98,45.84,3),(-87.29,45.76,2),(-86.41,45.91,2),(-89.33,45.64,2),
    (-87.98,45.49,2),(-87.83,45.36,2),(-89.62,44.94,2),(-88.0,44.77,2),(-88.03,44.41,2),(-84.76,45.7,2),(-84.95,45.49,6),
    (-84.68,45.51,2),(-84.41,45.58,6),(-84.55,45.41,6),(-84.44,45.35,2),(-83.8,45.4,2),(-85.2,45.28,5),(-83.42,45.08,2),
    (-85.32,44.98,2),(-85.17,44.95,2),(-85.23,44.82,2),(-84.1,45.0,2),(-84.63,44.98,8),(-84.27,44.82,3),(-85.85,44.87,6),
    (-85.74,44.85,2),(-85.97,44.83,2),(-85.8,44.72,2),(-85.63,44.73,12),(-85.51,44.8,6),(-86.16,44.62,2),(-85.66,44.39,2),
    (-85.33,44.41,5),(-85.09,44.37,2),(-84.61,44.47,5),(-84.15,44.46,2),(-84.39,44.35,2),(-83.37,44.44,5),(-85.71,44.3,5),
    (-85.41,44.23,5),(-84.7,44.3,6),(-83.94,44.2,2),(-83.49,44.24,2),(-88.25,44.07,2),(-87.65,44.08,2),(-86.22,44.23,2),
    (-86.22,44.09,2),(-86.38,43.96,3),(-84.78,44.05,2),(-84.41,44.03,2),(-83.88,43.98,2),(-85.83,43.88,2),(-85.36,43.83,2),
    (-84.95,43.85,2),(-84.68,43.82,1),(-84.37,43.88,2),(-83.22,43.85,2),(-82.63,43.81,2),(-87.69,43.73,3),(-85.43,43.69,2),
    (-84.93,43.65,2),(-84.34,43.69,2),(-86.31,43.6,2),(-86.03,43.59,2),(-84.73,43.6,6),(-84.21,43.6,2),(-83.85,43.6,6),
    (-83.11,43.6,2),(-84.06,43.5,7),(-83.69,43.52,2),(-83.88,43.48,2),(-83.85,43.4,5),(-85.89,43.47,5),(-86.06,43.44,2),
    (-86.13,43.36,4),(-89.54,43.32,2),(-85.77,43.33,1),(-85.45,43.33,2),(-85.46,43.26,2),(-83.51,43.36,2),(-83.3,43.34,2),
    (-84.85,43.27,2),(-84.73,43.3,2),(-85.11,43.24,2),(-86.21,43.23,5),(-87.91,43.22,3),(-83.87,43.26,2),(-83.72,43.26,2),
    (-86.15,43.21,2),(-84.78,43.18,2),(-85.21,43.18,2),(-84.05,43.19,2),(-82.91,43.22,2),(-85.64,43.16,7),(-85.46,43.12,5),
    (-85.8,43.12,2),(-85.19,43.08,2),(-83.65,43.16,2),(-83.45,43.16,2),(-83.32,43.15,2),(-89.48,43.03,2),(-83.59,43.05,4),
    (-83.45,43.03,5),(-83.26,43.05,2),(-83.09,43.05,2),(-82.99,43.03,2),(-82.43,43.08,2),(-85.69,43.0,5),(-85.57,43.0,6),
    (-85.45,42.97,5),(-85.54,42.9,7),(-85.59,42.87,4),(-85.3,42.94,2),(-86.11,42.94,4),(-88.12,42.97,2),(-88.0,42.97,2),
    (-84.51,43.0,2),(-84.11,43.0,2),(-83.99,43.0,2),(-83.75,42.95,2),(-83.22,42.94,2),(-83.06,42.94,2),(-85.82,42.87,6),
    (-85.94,42.83,7),(-86.07,42.77,8),(-86.03,42.82,4),(-85.07,42.79,2),(-84.1,42.84,2),(-83.67,42.78,9),(-83.51,42.81,5),
    (-83.36,42.84,2),(-83.09,42.77,6),(-82.84,42.75,2),(-82.44,42.75,2),(-84.39,42.75,5),(-84.54,42.74,2),(-84.47,42.71,2),
    (-84.58,42.65,2),(-84.21,42.69,6),(-83.31,42.69,5),(-83.22,42.72,5),(-83.06,42.68,5),(-82.84,42.66,5),(-83.28,42.62,6),
    (-83.49,42.58,2),(-85.57,42.69,6),(-85.41,42.69,2),(-85.23,42.65,5),(-85.7,42.64,2),(-85.52,42.59,2),(-86.08,42.59,2),
    (-85.82,42.54,6),(-85.34,42.52,2),(-84.37,42.59,2),(-83.69,42.52,4),(-83.43,42.52,5),(-83.09,42.52,6),(-82.87,42.52,4),
    (-82.63,42.65,2),(-88.23,42.52,2),(-83.86,42.46,2),(-83.69,42.44,6),(-83.43,42.42,4),(-83.3,42.39,7),(-83.15,42.39,2),
    (-88.98,42.67,2),(-88.98,42.42,2),(-88.0,42.35,2),(-88.41,42.33,2),(-86.0,42.4,2),(-85.38,42.39,2),(-83.95,42.33,6),
    (-83.82,42.36,2),(-83.73,42.3,7),(-83.56,42.23,6),(-83.43,42.23,5),(-83.31,42.29,7),(-83.3,42.16,6),(-83.15,42.25,3),
    (-83.69,42.19,2),(-85.57,42.27,6),(-85.55,42.23,5),(-85.85,42.23,4),(-85.15,42.3,2),(-84.89,42.29,2),(-84.57,42.19,2),
    (-84.32,42.25,3),(-84.29,42.14,5),(-84.15,42.1,4),(-88.22,42.23,2),(-86.28,42.22,2),(-85.94,42.12,2),(-85.44,42.13,5),
    (-85.03,42.16,2),(-85.06,42.08,2),(-88.48,42.11,2),(-88.23,42.05,2),(-87.89,42.08,2),(-87.81,42.13,2),(-87.82,42.03,2),
    (-86.44,42.09,4),(-86.07,42.03,5),(-85.75,42.04,6),(-84.36,42.06,2),(-84.26,42.02,2),(-83.58,41.97,2),(-86.3,41.96,2),
    (-85.94,41.93,5),(-85.85,41.93,2),(-85.58,41.98,2),(-85.26,41.97,4),(-84.94,41.93,6),(-84.55,41.92,2),(-83.21,42.0,2),
    (-87.66,41.96,3),(-87.66,41.84,2),(-88.28,41.86,2),(-88.04,41.88,3),(-87.91,41.91,2),(-87.8,41.74,7),(-87.76,41.77,3),
    (-87.78,41.7,3),(-85.37,41.84,4),(-85.61,41.81,2),(-85.77,41.8,2),(-86.03,41.8,2),(-86.19,41.85,2),(-83.34,41.9,7),
    (-83.79,41.85,2),(-83.4,41.81,2),(-83.62,41.71,6),(-86.26,41.73,2),(-86.16,41.71,3),(-86.1,41.76,2),(-85.93,41.74,2),
    (-87.03,41.64,4),(-88.17,41.56,2),(-87.58,41.59,2),(-87.43,41.58,2),(-87.82,41.55,2),(-83.51,41.56,2)]

panel_points = [points_1, points_2, points_3, points_4]
panel_colors = ['#E41A1C', '#377EB8', '#4DAF4A', '#984EA3']
panel_names = ['1', '2', '3', '4']
lon_ticks = [-90, -88, -86, -84]
lat_ticks = [42, 43, 44, 45, 46, 47]
legend_n = [10, 20, 30]

W, H = 1019, 754
SIZE = 8.5  # points^2 per response
LEGEND_SIZE = 7.6


def px_axes(fig, left, top, right, bottom):
    return fig.add_axes([left / W, 1 - bottom / H, (right - left) / W, (bottom - top) / H])


def draw_map(ax):
    ax.fill(*zip(*land), fc='#efefef', ec='black', lw=1.2, zorder=2)
    ax.fill(*zip(*ontario_n), fc='#bebebe', ec='black', lw=1.2, zorder=2)
    ax.fill(*zip(*ontario_s), fc='#bebebe', ec='black', lw=1.2, zorder=2)
    for line in [wi_up, il_wi, mi_in, mi_oh, in_oh, il_in]:
        ax.plot(*zip(*line), color='black', lw=1.1, zorder=3)


fig = plt.figure(figsize=(W / 100, H / 100), dpi=100)

boxes = [(82, 33, 491, 348), (500, 33, 909, 348), (82, 379, 491, 692), (500, 379, 909, 692)]
for i, box in enumerate(boxes):
    ax = px_axes(fig, *box)
    draw_map(ax)
    pts = np.array(panel_points[i])
    ax.scatter(pts[:, 0], pts[:, 1], s=pts[:, 2] * SIZE, color=panel_colors[i], alpha=0.58, linewidths=0, zorder=4)
    ax.set_xlim(-90, -82.4)
    ax.set_ylim(41.55, 47)
    ax.set_xticks(lon_ticks)
    ax.set_yticks(lat_ticks)
    ax.grid(color='#ebebeb', lw=1.2, zorder=0)
    ax.set_axisbelow(True)
    ax.tick_params(length=3, width=0.8, color='#333333', labelsize=20, pad=2,
                   labelbottom=i >= 2, labelleft=i % 2 == 0,
                   bottom=i >= 2, left=i % 2 == 0)
    for s in ax.spines.values():
        s.set_color('#333333')
        s.set_linewidth(1.0)
        s.set_zorder(6)
    # facet strip
    strip = px_axes(fig, box[0], box[1] - 24, box[2], box[1])
    strip.set_facecolor('#d9d9d9')
    strip.set_xticks([])
    strip.set_yticks([])
    for s in strip.spines.values():
        s.set_color('#333333')
        s.set_linewidth(1.0)
    strip.text(0.5, 0.48, panel_names[i], ha='center', va='center', fontsize=9, color='#333333',
               transform=strip.transAxes)

fig.text(495 / W, 1 - 738 / H, 'Longitude', fontsize=25, ha='center', va='center')
fig.text(24 / W, 1 - 362 / H, 'Latitude', fontsize=22, rotation=90, ha='center', va='center')

# legend
fig.text(936 / W, 1 - 327 / H, 'Number of\nresponses', fontsize=12, ha='left', va='center', linespacing=1.0)
leg = fig.add_axes([0, 0, 1, 1], facecolor='none')
leg.set_xlim(0, W)
leg.set_ylim(H, 0)
leg.axis('off')
leg_y = [359, 382, 404]
leg.scatter([949] * 3, leg_y, s=[n * LEGEND_SIZE for n in legend_n], color='black', linewidths=0)
for n, y in zip(legend_n, leg_y):
    leg.text(972, y, str(n), fontsize=10, va='center', ha='left', color='#1a1a1a')

fig.savefig('out.png', dpi=100)
